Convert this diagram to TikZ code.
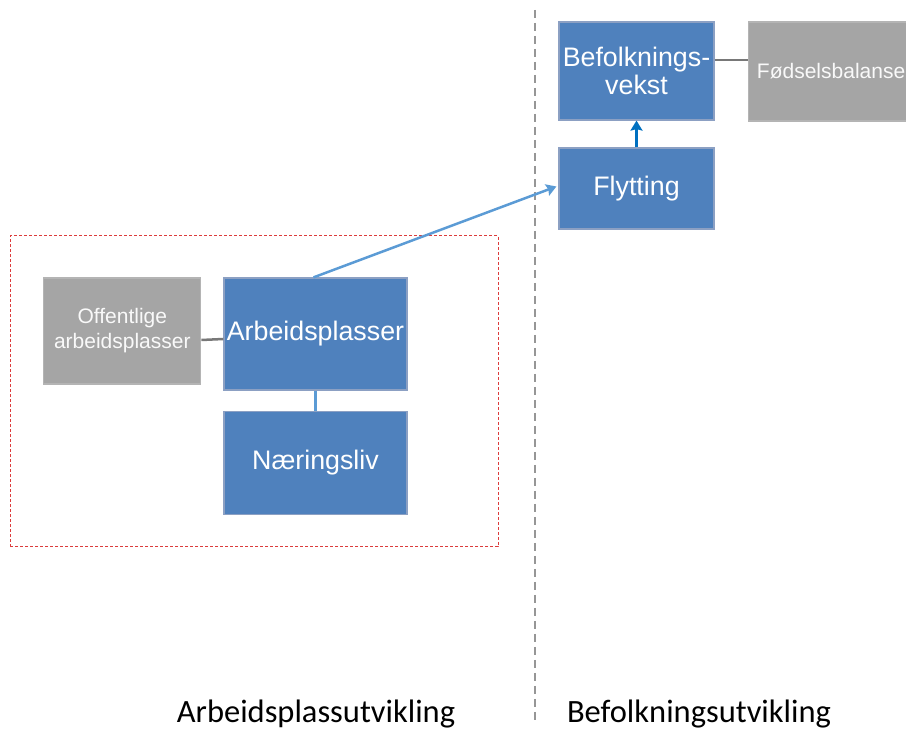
\documentclass[tikz,border=0pt]{standalone}
\usepackage{fontspec}
\setmainfont{Liberation Sans}
\newfontfamily\labelfont{Carlito}
\usepackage{tikz}
\usetikzlibrary{positioning,shapes,arrows,arrows.meta,calc}
\definecolor{boxblue}{RGB}{79,129,189}
\definecolor{boxblueline}{RGB}{140,160,195}
\definecolor{boxgray}{RGB}{165,165,165}
\definecolor{boxgrayline}{RGB}{180,180,180}
\definecolor{linkgray}{RGB}{120,120,120}
\definecolor{linkblue}{RGB}{91,155,213}
\definecolor{arrowblue}{RGB}{0,112,192}
\definecolor{framered}{RGB}{220,60,60}
\definecolor{splitgray}{RGB}{150,150,150}

\begin{document}
\begin{tikzpicture}[x=1pt,y=1pt,
    bluebox/.style={rectangle,fill=boxblue,draw=boxblueline,line width=1.2pt,text=white,align=center,inner sep=0pt,font=\fontsize{26.8}{28}\selectfont},
    graybox/.style={rectangle,fill=boxgray,draw=boxgrayline,line width=1.2pt,text=white!95!gray,align=center,inner sep=0pt,font=\fontsize{21}{25}\selectfont},
    link/.style={line width=2.5pt},
    head/.style={-{Stealth[length=10pt,width=12pt,inset=1.5pt]}},
    part/.style={font=\labelfont\fontsize{32.5}{36}\selectfont,text=black,anchor=base,inner sep=0pt}]
\useasboundingbox (0,0) rectangle (906,731);
\node[bluebox,minimum width=155,minimum height=98] (befolk) at (636.5,660) {Befolknings-\\vekst};
\node[graybox,minimum width=162,minimum height=99,anchor=west] (fodsel) at (748,659.5) {\hspace*{3pt}Fødselsbalanse};
\node[bluebox,minimum width=155,minimum height=81] (flytting) at (636.5,542.5) {Flytting};
\node[bluebox,minimum width=183,minimum height=112] (arbeid) at (315.5,397) {Arbeidsplasser};
\node[bluebox,minimum width=183,minimum height=103,below=20 of arbeid] (naering) {Næringsliv};
\node[graybox,minimum width=157,minimum height=106,left=22 of arbeid.north west,anchor=north east] (offentlig) {Offentlige\\arbeidsplasser};
\draw[framered,line width=1pt,dash pattern=on 3pt off 2pt] (10,184) rectangle (498,495);
\draw[splitgray,line width=2.2pt,dash pattern=on 8pt off 5pt] (535,721) -- (535,11);
\draw[linkgray,link] ([yshift=-9pt]offentlig.east) -- ([yshift=-5pt]arbeid.west);
\draw[linkgray,link] ([yshift=11pt]befolk.east) -- ([yshift=11.5pt]fodsel.west);
\draw[linkblue,link] (arbeid) -- (naering);
\draw[linkblue,link,head] ([xshift=-2pt]arbeid.north) -- ([xshift=-2pt,yshift=2pt]flytting.west);
\draw[arrowblue,link,head] (flytting) -- (befolk);
\node[part] (arbutv) at (316,8.5) {Arbeidsplassutvikling};
\node[part] (befutv) at (699,8.5) {Befolkningsutvikling};
\end{tikzpicture}
\end{document}
